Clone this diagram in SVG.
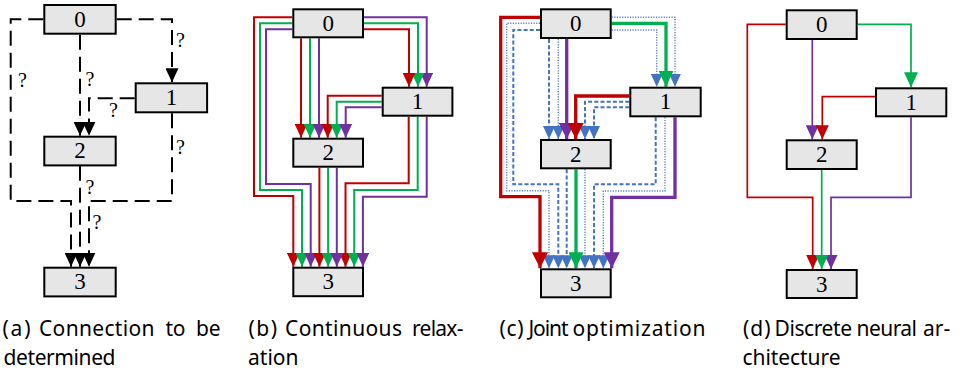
<svg xmlns="http://www.w3.org/2000/svg" width="970" height="373" viewBox="0 0 970 373">
<style>
.node rect{fill:#e6e6e6;stroke:#000;stroke-width:2}
.node text{font-family:"Liberation Serif",serif;font-size:23px;text-anchor:middle;fill:#000}
.e{fill:none;stroke-linejoin:miter}
.k{stroke:#000;stroke-width:2;stroke-dasharray:15 7}
.r{stroke:#c00000}
.g{stroke:#00b050}
.p{stroke:#7030a0}
.w2{stroke-width:2}
.w3{stroke-width:3.3}
.wd{stroke-width:1.7}
.bd{stroke:#4472c4;stroke-width:2;stroke-dasharray:4 2.2}
.bt{stroke:#5b82cc;stroke-width:1.4;stroke-dasharray:1.2 1.4}
.q{font-family:"Liberation Serif",serif;font-size:20px;fill:#000}
.cap text{font-family:"Noto Sans",sans-serif;font-size:21px;fill:#000}
</style>
<defs>
<marker id="ak" viewBox="0 0 14 13" refX="14" refY="6.5" markerWidth="14" markerHeight="13" markerUnits="userSpaceOnUse" orient="auto"><path d="M0,0L14,6.5L0,13z" fill="#000"/></marker>
<marker id="ar" viewBox="0 0 14 13" refX="14" refY="6.5" markerWidth="14" markerHeight="13" markerUnits="userSpaceOnUse" orient="auto"><path d="M0,0L14,6.5L0,13z" fill="#c00000"/></marker>
<marker id="ag" viewBox="0 0 14 13" refX="14" refY="6.5" markerWidth="14" markerHeight="13" markerUnits="userSpaceOnUse" orient="auto"><path d="M0,0L14,6.5L0,13z" fill="#00b050"/></marker>
<marker id="ap" viewBox="0 0 14 13" refX="14" refY="6.5" markerWidth="14" markerHeight="13" markerUnits="userSpaceOnUse" orient="auto"><path d="M0,0L14,6.5L0,13z" fill="#7030a0"/></marker>
<marker id="ab" viewBox="0 0 13 12" refX="13" refY="6" markerWidth="13" markerHeight="12" markerUnits="userSpaceOnUse" orient="auto"><path d="M0,0L13,6L0,12z" fill="#4472c4"/></marker>
<marker id="arL" viewBox="0 0 16 16" refX="16" refY="8" markerWidth="16" markerHeight="16" markerUnits="userSpaceOnUse" orient="auto"><path d="M0,0L16,8L0,16z" fill="#c00000"/></marker>
<marker id="agL" viewBox="0 0 16 15" refX="16" refY="7.5" markerWidth="16" markerHeight="15" markerUnits="userSpaceOnUse" orient="auto"><path d="M0,0L16,7.5L0,15z" fill="#00b050"/></marker>
<marker id="apL" viewBox="0 0 16 16" refX="16" refY="8" markerWidth="16" markerHeight="16" markerUnits="userSpaceOnUse" orient="auto"><path d="M0,0L16,8L0,16z" fill="#7030a0"/></marker>
<marker id="agM" viewBox="0 0 15 14" refX="15" refY="7" markerWidth="15" markerHeight="14" markerUnits="userSpaceOnUse" orient="auto"><path d="M0,0L15,7L0,14z" fill="#00b050"/></marker>
</defs>

<!-- Panel (a) -->
<g id="a-connectors">
<path class="e k" d="M43.3,19.3H10.7V201H71V266.7" marker-end="url(#ak)"/>
<path class="e k" d="M116.7,19.3H172V82.3" marker-end="url(#ak)"/>
<path class="e k" d="M80,34.7V135.7" marker-end="url(#ak)"/>
<path class="e k" d="M134.7,98.3H89V135.7" marker-end="url(#ak)"/>
<path class="e k" d="M172,113.3V201H89V266.7" marker-end="url(#ak)"/>
<path class="e k" d="M80,165.7V266.7" marker-end="url(#ak)"/>
<text class="q" x="176" y="47">?</text>
<text class="q" x="18" y="87">?</text>
<text class="q" x="85.5" y="85.5">?</text>
<text class="q" x="109" y="117">?</text>
<text class="q" x="176" y="154">?</text>
<text class="q" x="85.5" y="193.5">?</text>
<text class="q" x="92.5" y="228.5">?</text>
</g>
<g id="a-n0" class="node"><rect x="44.3" y="5" width="71.4" height="28.7"/><text x="80" y="26.7">0</text></g>
<g id="a-n1" class="node"><rect x="135.7" y="83.3" width="71.4" height="29"/><text x="171.4" y="105">1</text></g>
<g id="a-n2" class="node"><rect x="44.3" y="136.7" width="71.4" height="28.7"/><text x="80" y="158.4">2</text></g>
<g id="a-n3" class="node"><rect x="44.3" y="267.7" width="71.4" height="28.7"/><text x="80" y="289.4">3</text></g>

<!-- Panel (b) -->
<g id="b-connectors">
<path class="e r w2" d="M292.3,17.3H254V196H293.3V266.7" marker-end="url(#ar)"/>
<path class="e g w2" d="M292.3,23.3H260V190H302V266.7" marker-end="url(#ag)"/>
<path class="e p w2" d="M292.3,29.3H266V184H310.7V266.7" marker-end="url(#ap)"/>
<path class="e r w2" d="M301,38.3V137.7" marker-end="url(#ar)"/>
<path class="e g w2" d="M310,38.3V137.7" marker-end="url(#ag)"/>
<path class="e p w2" d="M319,38.3V137.7" marker-end="url(#ap)"/>
<path class="e p w2" d="M364,17.3H426.7V86.7" marker-end="url(#ap)"/>
<path class="e g w2" d="M364,23.3H418V86.7" marker-end="url(#ag)"/>
<path class="e r w2" d="M364,29.3H409V86.7" marker-end="url(#ar)"/>
<path class="e r w2" d="M381.7,95.7H327.7V137.7" marker-end="url(#ar)"/>
<path class="e g w2" d="M381.7,101.7H336.7V137.7" marker-end="url(#ag)"/>
<path class="e p w2" d="M381.7,107.3H345.7V137.7" marker-end="url(#ap)"/>
<path class="e r w2" d="M408.7,116.7V183.3H345.5V266.7" marker-end="url(#ar)"/>
<path class="e g w2" d="M417.7,116.7V190H354.2V266.7" marker-end="url(#ag)"/>
<path class="e p w2" d="M426.7,116.7V196.7H362.9V266.7" marker-end="url(#ap)"/>
<path class="e r w2" d="M319.4,167.7V266.7" marker-end="url(#ar)"/>
<path class="e g w2" d="M328.1,167.7V266.7" marker-end="url(#ag)"/>
<path class="e p w2" d="M336.8,167.7V266.7" marker-end="url(#ap)"/>
</g>
<g id="b-n0" class="node"><rect x="293.3" y="9.3" width="69.7" height="28"/><text x="328.2" y="30.8">0</text></g>
<g id="b-n1" class="node"><rect x="382.7" y="87.7" width="69.7" height="28"/><text x="417.5" y="109.2">1</text></g>
<g id="b-n2" class="node"><rect x="293.3" y="138.7" width="69.7" height="28"/><text x="328.2" y="160.2">2</text></g>
<g id="b-n3" class="node"><rect x="293.3" y="267.7" width="69.7" height="28.5"/><text x="328.2" y="289.2">3</text></g>

<!-- Panel (c) -->
<g id="c-connectors">
<path class="e bt" d="M540,23.3H506.7V190.7H549V268.3" marker-end="url(#ab)"/>
<path class="e bd" d="M540,30H513.3V184.3H558.3V268.3" marker-end="url(#ab)"/>
<path class="e bd" d="M549,39V139" marker-end="url(#ab)"/>
<path class="e bt" d="M558.3,39V139" marker-end="url(#ab)"/>
<path class="e bt" d="M611.7,17.3H675V86.7" marker-end="url(#ab)"/>
<path class="e bt" d="M611.7,30H656.7V86.7" marker-end="url(#ab)"/>
<path class="e bd" d="M629.3,101.7H585V139" marker-end="url(#ab)"/>
<path class="e bd" d="M629.3,107.3H594V139" marker-end="url(#ab)"/>
<path class="e bd" d="M655.7,117.3V184.3H594V268.3" marker-end="url(#ab)"/>
<path class="e bt" d="M665,117.3V191H603.3V268.3" marker-end="url(#ab)"/>
<path class="e bd" d="M566.7,169.3V268.3" marker-end="url(#ab)"/>
<path class="e bt" d="M585,169.3V268.3" marker-end="url(#ab)"/>
<path class="e r w3" d="M540,17.3H500.7V196.7H540V268.3" marker-end="url(#arL)"/>
<path class="e p w3" d="M566.7,39V139" marker-end="url(#apL)"/>
<path class="e g w3" d="M611.7,23.3H666V86.7" marker-end="url(#agL)"/>
<path class="e r w3" d="M629.3,96H575.7V139" marker-end="url(#arL)"/>
<path class="e p w3" d="M675,117.3V197.3H611.7V268.3" marker-end="url(#apL)"/>
<path class="e g w3" d="M576,169.3V268.3" marker-end="url(#agL)"/>
</g>
<g id="c-n0" class="node"><rect x="541" y="9.3" width="69.7" height="28.7"/><text x="575.8" y="30.8">0</text></g>
<g id="c-n1" class="node"><rect x="630.3" y="87.7" width="70.4" height="28.6"/><text x="665.5" y="109.2">1</text></g>
<g id="c-n2" class="node"><rect x="541" y="140" width="69.7" height="28.3"/><text x="575.8" y="161.5">2</text></g>
<g id="c-n3" class="node"><rect x="541" y="269.3" width="69.7" height="28"/><text x="575.8" y="290.8">3</text></g>

<!-- Panel (d) -->
<g id="d-connectors">
<path class="e r wd" d="M785.7,24.3H747.3V197.3H812.7V269" marker-end="url(#ar)"/>
<path class="e g wd" d="M857.7,24.3H911V87.3" marker-end="url(#agM)"/>
<path class="e p wd" d="M812.3,40V139.3" marker-end="url(#ap)"/>
<path class="e r wd" d="M875,96.7H822.3V139.3" marker-end="url(#ar)"/>
<path class="e p wd" d="M911,117.3V197.3H831V269" marker-end="url(#ap)"/>
<path class="e g wd" d="M821.7,170V269" marker-end="url(#ag)"/>
</g>
<g id="d-n0" class="node"><rect x="786.7" y="10.3" width="70" height="28.7"/><text x="821.7" y="31.8">0</text></g>
<g id="d-n1" class="node"><rect x="876" y="88.3" width="70.3" height="28"/><text x="911.2" y="109.8">1</text></g>
<g id="d-n2" class="node"><rect x="786.7" y="140.3" width="70" height="28.7"/><text x="821.7" y="161.8">2</text></g>
<g id="d-n3" class="node"><rect x="786.7" y="270" width="70" height="28"/><text x="821.7" y="291.5">3</text></g>

<!-- Captions -->
<g id="captions" class="cap">
<text x="2.5" y="336" textLength="28" lengthAdjust="spacing">(a)</text>
<text x="39" y="336" textLength="115.5" lengthAdjust="spacing">Connection</text>
<text x="165.5" y="336" textLength="20" lengthAdjust="spacing">to</text>
<text x="196" y="336" textLength="24.5" lengthAdjust="spacing">be</text>
<text x="3.5" y="365" textLength="112" lengthAdjust="spacing">determined</text>
<text x="248.5" y="336" textLength="28.5" lengthAdjust="spacing">(b)</text>
<text x="285" y="336" textLength="117" lengthAdjust="spacing">Continuous</text>
<text x="412" y="336" textLength="51.5" lengthAdjust="spacing">relax-</text>
<text x="248" y="365" textLength="50.5" lengthAdjust="spacing">ation</text>
<text x="499.5" y="336" textLength="24" lengthAdjust="spacing">(c)</text>
<text x="528.5" y="336" textLength="40" lengthAdjust="spacing">Joint</text>
<text x="572.5" y="336" textLength="133" lengthAdjust="spacing">optimization</text>
<text x="743" y="336" textLength="27.5" lengthAdjust="spacing">(d)</text>
<text x="774.5" y="336" textLength="77.5" lengthAdjust="spacing">Discrete</text>
<text x="856.5" y="336" textLength="60.5" lengthAdjust="spacing">neural</text>
<text x="923" y="336">ar-</text>
<text x="742.5" y="365" textLength="98" lengthAdjust="spacing">chitecture</text>
</g>
</svg>
